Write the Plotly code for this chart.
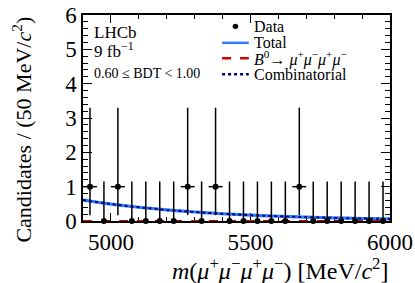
import plotly.graph_objects as go

# ---- data ----
bin_centers = [4925, 4975, 5025, 5075, 5125, 5175, 5225, 5275, 5325, 5375, 5425,
               5475, 5525, 5575, 5625, 5675, 5725, 5775, 5825, 5875, 5925, 5975]
counts = [1, 0, 1, 0, 0, 0, 0, 1, 0, 1, 0,
          0, 0, 0, 0, 1, 0, 0, 0, 0, 0, 0]
err_low_by_count = {0: 0.0, 1: 0.83}
err_high_by_count = {0: 1.15, 1: 2.30}
bin_half_width = 25

curve_x = [4900, 5000, 5100, 5200, 5300, 5400, 5500, 5600, 5700, 5800, 5900, 6000]
combinatorial = [0.61, 0.494, 0.40, 0.323, 0.262, 0.211, 0.171, 0.138, 0.112, 0.090, 0.073, 0.059]
signal = [0.0, 0.0, 0.0, 0.0, 0.0, 0.0, 0.0, 0.0, 0.0, 0.0, 0.0, 0.0]
total = [c + s for c, s in zip(combinatorial, signal)]

legend_labels = ["Data", "Total",
                 "<i>B</i><sup>0</sup>\u2192 <i>\u03bc</i><sup>+</sup><i>\u03bc</i><sup>\u2212</sup><i>\u03bc</i><sup>+</sup><i>\u03bc</i><sup>\u2212</sup>",
                 "Combinatorial"]

FONT = "Liberation Serif"
C_TOTAL = "#2f7dff"
C_COMB = "#000080"
C_SIG = "#d40000"

fig = go.Figure()

fig.add_trace(go.Scatter(x=curve_x, y=total, mode="lines", line=dict(color=C_TOTAL, width=3.2, shape="spline"),
                         showlegend=False, cliponaxis=False))
fig.add_trace(go.Scatter(x=curve_x, y=combinatorial, mode="lines",
                         line=dict(color=C_COMB, width=2.0, dash="dot", shape="spline"),
                         showlegend=False, cliponaxis=False))
fig.add_trace(go.Scatter(x=curve_x, y=signal, mode="lines",
                         line=dict(color=C_SIG, width=2.2, dash="dash"),
                         showlegend=False, cliponaxis=False))

fig.add_trace(go.Scatter(
    x=bin_centers, y=counts, mode="markers",
    marker=dict(color="black", size=6),
    error_y=dict(type="data", symmetric=False,
                 array=[err_high_by_count[c] for c in counts],
                 arrayminus=[err_low_by_count[c] for c in counts],
                 color="black", thickness=1.5, width=0),
    error_x=dict(type="data", array=[bin_half_width if c > 0 else 0 for c in counts],
                 color="black", thickness=1.5, width=0),
    showlegend=False, cliponaxis=False))

# ---- manual legend (paper coordinates) ----
leg_x0, leg_x1, leg_text_x = 0.453, 0.540, 0.552
leg_rows = [0.945, 0.865, 0.79, 0.712]
fig.add_shape(type="circle", xref="paper", yref="paper",
              x0=(leg_x0 + leg_x1) / 2 - 0.009, x1=(leg_x0 + leg_x1) / 2 + 0.009,
              y0=leg_rows[0] - 0.013, y1=leg_rows[0] + 0.013,
              fillcolor="black", line=dict(width=0))
fig.add_shape(type="line", xref="paper", yref="paper", x0=leg_x0, x1=leg_x1,
              y0=leg_rows[1], y1=leg_rows[1], line=dict(color=C_TOTAL, width=2.5))
fig.add_shape(type="line", xref="paper", yref="paper", x0=leg_x0, x1=leg_x1,
              y0=leg_rows[2], y1=leg_rows[2], line=dict(color=C_SIG, width=2.5, dash="dash"))
fig.add_shape(type="line", xref="paper", yref="paper", x0=leg_x0, x1=leg_x1,
              y0=leg_rows[3], y1=leg_rows[3], line=dict(color=C_COMB, width=2.5, dash="dot"))
for lab, yy in zip(legend_labels, leg_rows):
    fig.add_annotation(x=leg_text_x, y=yy, xref="paper", yref="paper", text=lab, showarrow=False,
                       xanchor="left", yanchor="middle", font=dict(family=FONT, size=16, color="black"))

# ---- LHCb labels ----
fig.add_annotation(x=0.03, y=0.915, xref="paper", yref="paper", text="LHCb", showarrow=False,
                   xanchor="left", yanchor="middle", font=dict(family=FONT, size=17, color="black"))
fig.add_annotation(x=0.03, y=0.83, xref="paper", yref="paper", text="9 fb<sup>\u22121</sup>", showarrow=False,
                   xanchor="left", yanchor="middle", font=dict(family=FONT, size=17, color="black"))
fig.add_annotation(x=0.03, y=0.715, xref="paper", yref="paper", text="0.60 \u2264 BDT < 1.00", showarrow=False,
                   xanchor="left", yanchor="middle", font=dict(family=FONT, size=14, color="black"))

# ---- axis titles ----
fig.add_annotation(x=1.0, y=-0.15, xref="paper", yref="paper",
                   text="<i>m</i>(<i>\u03bc</i><sup>+</sup><i>\u03bc</i><sup>\u2212</sup><i>\u03bc</i><sup>+</sup><i>\u03bc</i><sup>\u2212</sup>) [MeV/<i>c</i><sup>2</sup>]",
                   showarrow=False, xanchor="right", yanchor="top",
                   font=dict(family=FONT, size=24, color="black"))
fig.add_annotation(x=-0.2, y=1.0, xref="paper", yref="paper",
                   text="Candidates / (50 MeV/<i>c</i><sup>2</sup>)", textangle=-90,
                   showarrow=False, xanchor="center", yanchor="top",
                   font=dict(family=FONT, size=22, color="black"))

axis_common = dict(showline=True, linecolor="black", linewidth=1.5, mirror="ticks",
                   ticks="inside", tickcolor="black", tickwidth=1.2, showgrid=False,
                   zeroline=False, layer="below traces", automargin=False,
                   tickfont=dict(family=FONT, size=23, color="black"))

fig.update_xaxes(range=[4900, 6000], tickvals=[5000, 5500, 6000], ticklen=8,
                 minor=dict(ticks="inside", dtick=100, tick0=4900, ticklen=4, tickcolor="black", tickwidth=1.2),
                 **axis_common)
fig.update_yaxes(range=[0, 6], dtick=1, ticklen=9,
                 minor=dict(ticks="inside", dtick=0.2, ticklen=5, tickcolor="black", tickwidth=1.2),
                 **axis_common)

fig.update_layout(width=415, height=283, margin=dict(l=83, r=25, t=15, b=62),
                  plot_bgcolor="white", paper_bgcolor="white", showlegend=False,
                  font=dict(family=FONT, color="black"))

fig.write_html("out.html", config={"displayModeBar": False},
               post_script="document.body.style.margin='0';document.body.style.overflow='hidden';")
